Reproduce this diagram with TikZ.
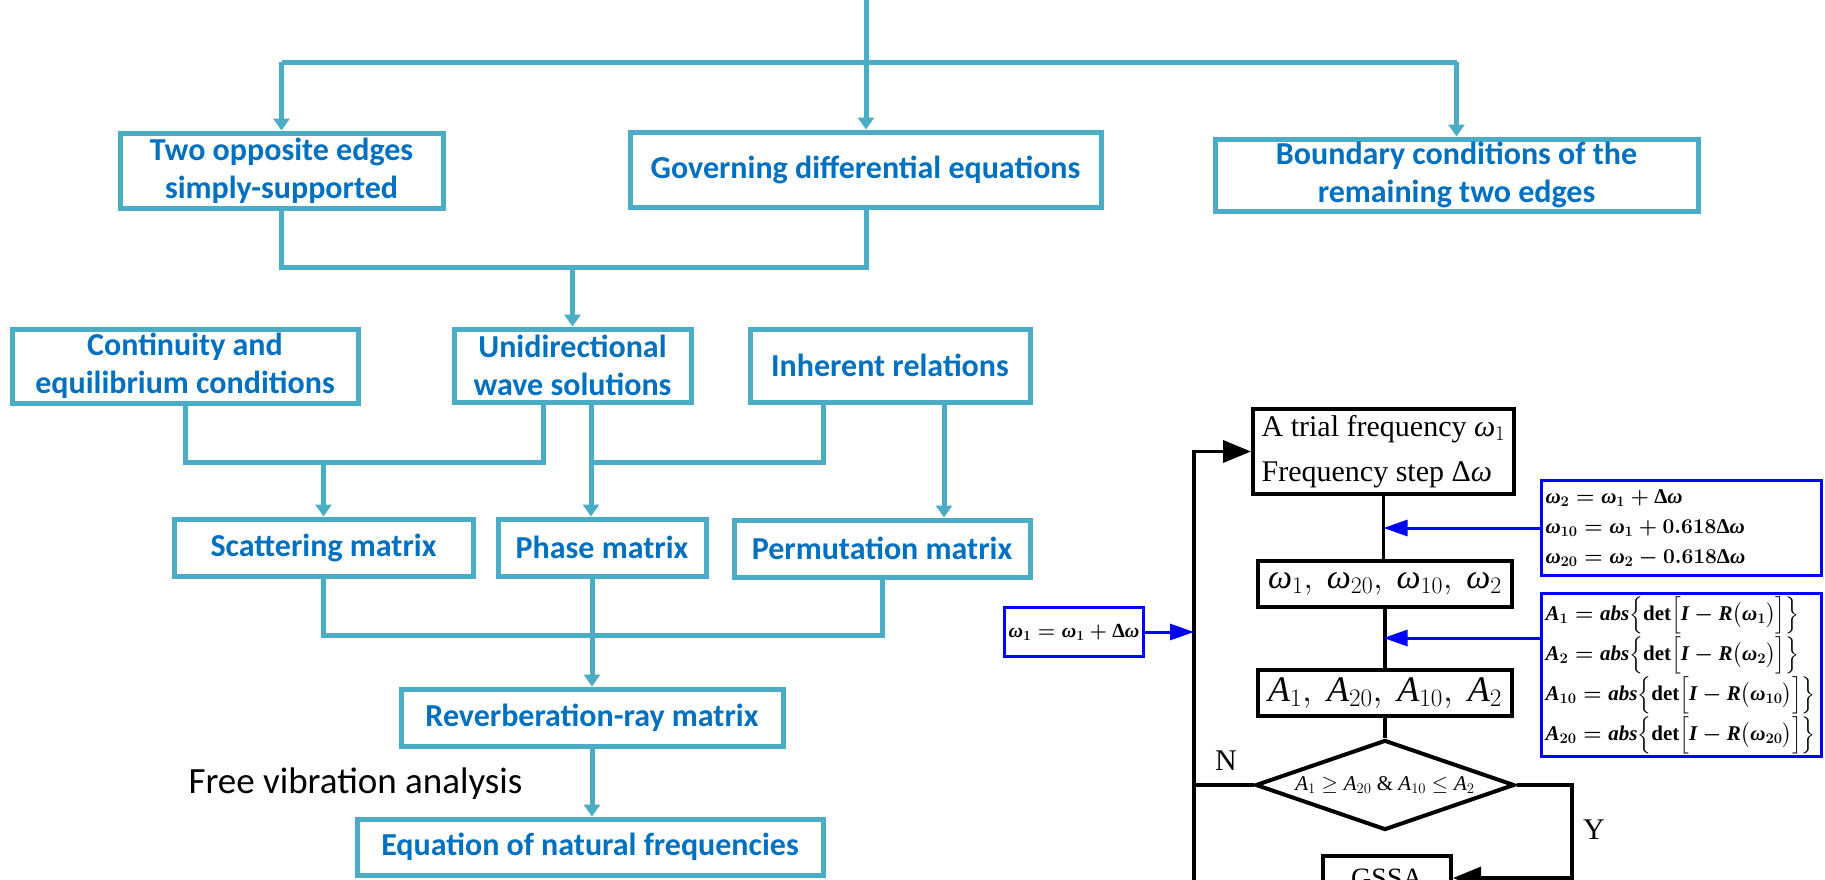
\RequirePackage{fix-cm}
\documentclass[tikz,border=0pt]{standalone}
\usepackage{amsmath}
\usepackage{fontspec}
\setmainfont{Liberation Serif}
\newfontfamily\calibri{Carlito}
\usetikzlibrary{arrows.meta,shapes.geometric}
\definecolor{boxaqua}{RGB}{75,172,198}
\definecolor{textblue}{RGB}{0,112,192}
\definecolor{eqblue}{RGB}{0,0,255}
\newcommand{\vi}[1]{\text{\itshape #1}}
\newcommand{\dom}{\text{Δ}\vi{ω}}
\newcommand{\detline}[2]{\mbox{$\vi{A}_{#1}=\vi{abs}\Bigl\{\text{det}\Bigl[\vi{I}-\vi{R}\bigl(\vi{ω}_{#2}\bigr)\Bigr]\Bigr\}$}}

\begin{document}
\begin{tikzpicture}[
    x=1pt,
    y=-1pt,
    >={Triangle[length=12pt,width=16pt]},
    planbox/.style={draw=boxaqua,line width=5pt,fill=white,text=textblue,align=center,inner sep=0pt,
      font=\calibri\bfseries\fontsize{32}{38}\selectfont},
    planline/.style={draw=boxaqua,line width=5pt},
    loopbox/.style={draw=black,line width=4pt,fill=white,inner sep=0pt},
    loopline/.style={draw=black,line width=3.5pt},
    looptip/.style={-{Triangle[length=28pt,width=22pt]}},
    eqbox/.style={draw=eqblue,line width=3pt,fill=white,inner xsep=4pt,inner ysep=3pt,align=left,
      font=\fontsize{21}{30}\selectfont\bfseries\boldmath},
    eqline/.style={draw=eqblue,line width=3pt,-{Triangle[length=24pt,width=16pt]}}
]
  \useasboundingbox (0,0) rectangle (1825,879);
  \clip (0,0) rectangle (1825,879);

  % analysis chain
  \node[planbox,minimum width=323pt,minimum height=75pt] (twoedge) at (281.5,170.5) {Two opposite edges\\simply-supported};
  \node[planbox,minimum width=471pt,minimum height=75pt] (govern) at (865.5,169.5) {Governing differential equations};
  \node[planbox,minimum width=483pt,minimum height=72pt] (bound) at (1456.5,175) {Boundary conditions of the\\remaining two edges};
  \node[planbox,minimum width=346pt,minimum height=74pt] (contin) at (185,366) {Continuity and\\equilibrium conditions};
  \node[planbox,minimum width=237pt,minimum height=73pt] (unidir) at (572.5,365.5) {Unidirectional\\wave solutions};
  \node[planbox,minimum width=280pt,minimum height=73pt] (inher) at (890,365.5) {Inherent relations};
  \node[planbox,minimum width=299pt,minimum height=57pt] (scatter) at (323.5,547.5) {Scattering matrix};
  \node[planbox,minimum width=208pt,minimum height=57pt] (phase) at (602,547.5) {Phase matrix};
  \node[planbox,minimum width=296pt,minimum height=57pt] (permut) at (882,548.5) {Permutation matrix};
  \node[planbox,minimum width=382pt,minimum height=57pt] (reverb) at (592,717.5) {Reverberation-ray matrix};
  \node[planbox,minimum width=466pt,minimum height=56pt] (natfreq) at (590,847) {Equation of natural frequencies};
  \node[anchor=base west,font=\calibri\fontsize{37}{44}\selectfont] (freevib) at (185,793) {Free vibration analysis};

  \coordinate (topin) at (866,0);
  \coordinate (busA) at (0,62);
  \coordinate (busB) at (0,267);
  \coordinate (busC) at (0,462);
  \coordinate (busD) at (0,635);

  \draw[planline,->] (topin) -- (topin |- govern.north);
  \draw[planline] (twoedge.north |- busA) -- (bound.north |- busA);
  \draw[planline,->] (twoedge.north |- busA) -- (twoedge.north);
  \draw[planline,->] (bound.north |- busA) -- (bound.north);

  \draw[planline] (twoedge.south) -- (twoedge.south |- busB) -- (topin |- busB) -- (topin |- govern.south);
  \draw[planline,->] (unidir.north |- busB) -- (unidir.north);

  \draw[planline] (contin.south) |- ([xshift=-29.5pt]unidir.south |- busC) -- ([xshift=-29.5pt]unidir.south);
  \draw[planline,->] (scatter.north |- busC) -- (scatter.north);
  \draw[planline,->] ([xshift=18.5pt]unidir.south) -- ([xshift=18.5pt]unidir.south |- phase.north);
  \draw[planline] ([xshift=-67pt]inher.south) |- ([xshift=18.5pt]unidir.south |- busC);
  \draw[planline,->] ([xshift=54pt]inher.south) -- ([xshift=54pt]inher.south |- permut.north);

  \draw[planline] (scatter.south) |- (permut.south |- busD) -- (permut.south);
  \draw[planline,->] (phase.south -| reverb.north) -- (reverb.north);
  \draw[planline,->] (reverb.south) -- (reverb.south |- natfreq.north);

  % search loop
  \node[loopbox,minimum width=261pt,minimum height=85pt,align=left,font=\fontsize{30}{45}\selectfont] (trial) at (1383.5,451.5)
    {A trial frequency $\vi{ω}_1$\\Frequency step $\dom$};
  \node[loopbox,minimum width=254pt,minimum height=46pt,font=\fontsize{34}{40}\selectfont] (omegas) at (1385,584)
    {$\vi{ω}_1,\ \vi{ω}_{20},\ \vi{ω}_{10},\ \vi{ω}_2$};
  \node[loopbox,minimum width=254pt,minimum height=46pt,font=\fontsize{36}{44}\selectfont] (amps) at (1385,693)
    {$\vi{A}_1,\ \vi{A}_{20},\ \vi{A}_{10},\ \vi{A}_2$};
  \node[draw,line width=4pt,diamond,fill=white,minimum width=259pt,minimum height=90pt,inner sep=0pt] (check) at (1385,785) {};
  \node[font=\fontsize{21}{24}\selectfont] (checktext) at (check.center) {$\vi{A}_1\geq \vi{A}_{20}\ \&\ \vi{A}_{10}\leq \vi{A}_2$};
  \node[loopbox,minimum width=128pt,minimum height=44pt,anchor=north,font=\fontsize{28}{30}\selectfont] (gssa) at (1387,854) {GSSA};
  \node[font=\fontsize{30}{32}\selectfont] (nlabel) at (1226,761) {N};
  \node[font=\fontsize{30}{32}\selectfont] (ylabel) at (1594,830) {Y};

  \node[eqbox,text width=272pt,minimum height=95pt] (eqstep) at (1681.5,528)
    {$\vi{ω}_2=\vi{ω}_1+\dom$\\$\vi{ω}_{10}=\vi{ω}_1+0.618\dom$\\$\vi{ω}_{20}=\vi{ω}_2-0.618\dom$};
  \node[eqbox,text width=272pt,minimum height=163pt,font=\fontsize{21}{40}\selectfont\bfseries\boldmath] (eqdet) at (1681.5,675)
    {\detline{1}{1}\\\detline{2}{2}\\\detline{10}{10}\\\detline{20}{20}};
  \node[eqbox,minimum width=137pt,minimum height=49pt,align=center,font=\fontsize{20}{24}\selectfont\bfseries\boldmath] (eqinc) at (1074,632)
    {$\vi{ω}_1=\vi{ω}_1+\dom$};

  \coordinate (loopbot) at (1194,890);
  \coordinate (yturn) at (1572,785);

  \draw[loopline] (trial.south) -- (trial.south |- omegas.north);
  \draw[loopline] (omegas.south) -- (amps.north);
  \draw[loopline] (amps.south) -- (check.north);
  \draw[loopline,looptip] (loopbot) -- (loopbot |- trial.west) -- (trial.west);
  \draw[loopline] (check.west) -- (check.west -| loopbot);
  \draw[loopline,looptip] (check.east) -- (yturn) |- (gssa.east);

  \draw[eqline] (eqstep.west) -- (eqstep.west -| trial.south);
  \draw[eqline] ([yshift=37pt]eqdet.west) -- ([yshift=37pt]eqdet.west -| trial.south);
  \draw[eqline] (eqinc.east) -- (eqinc.east -| loopbot);
\end{tikzpicture}
\end{document}
